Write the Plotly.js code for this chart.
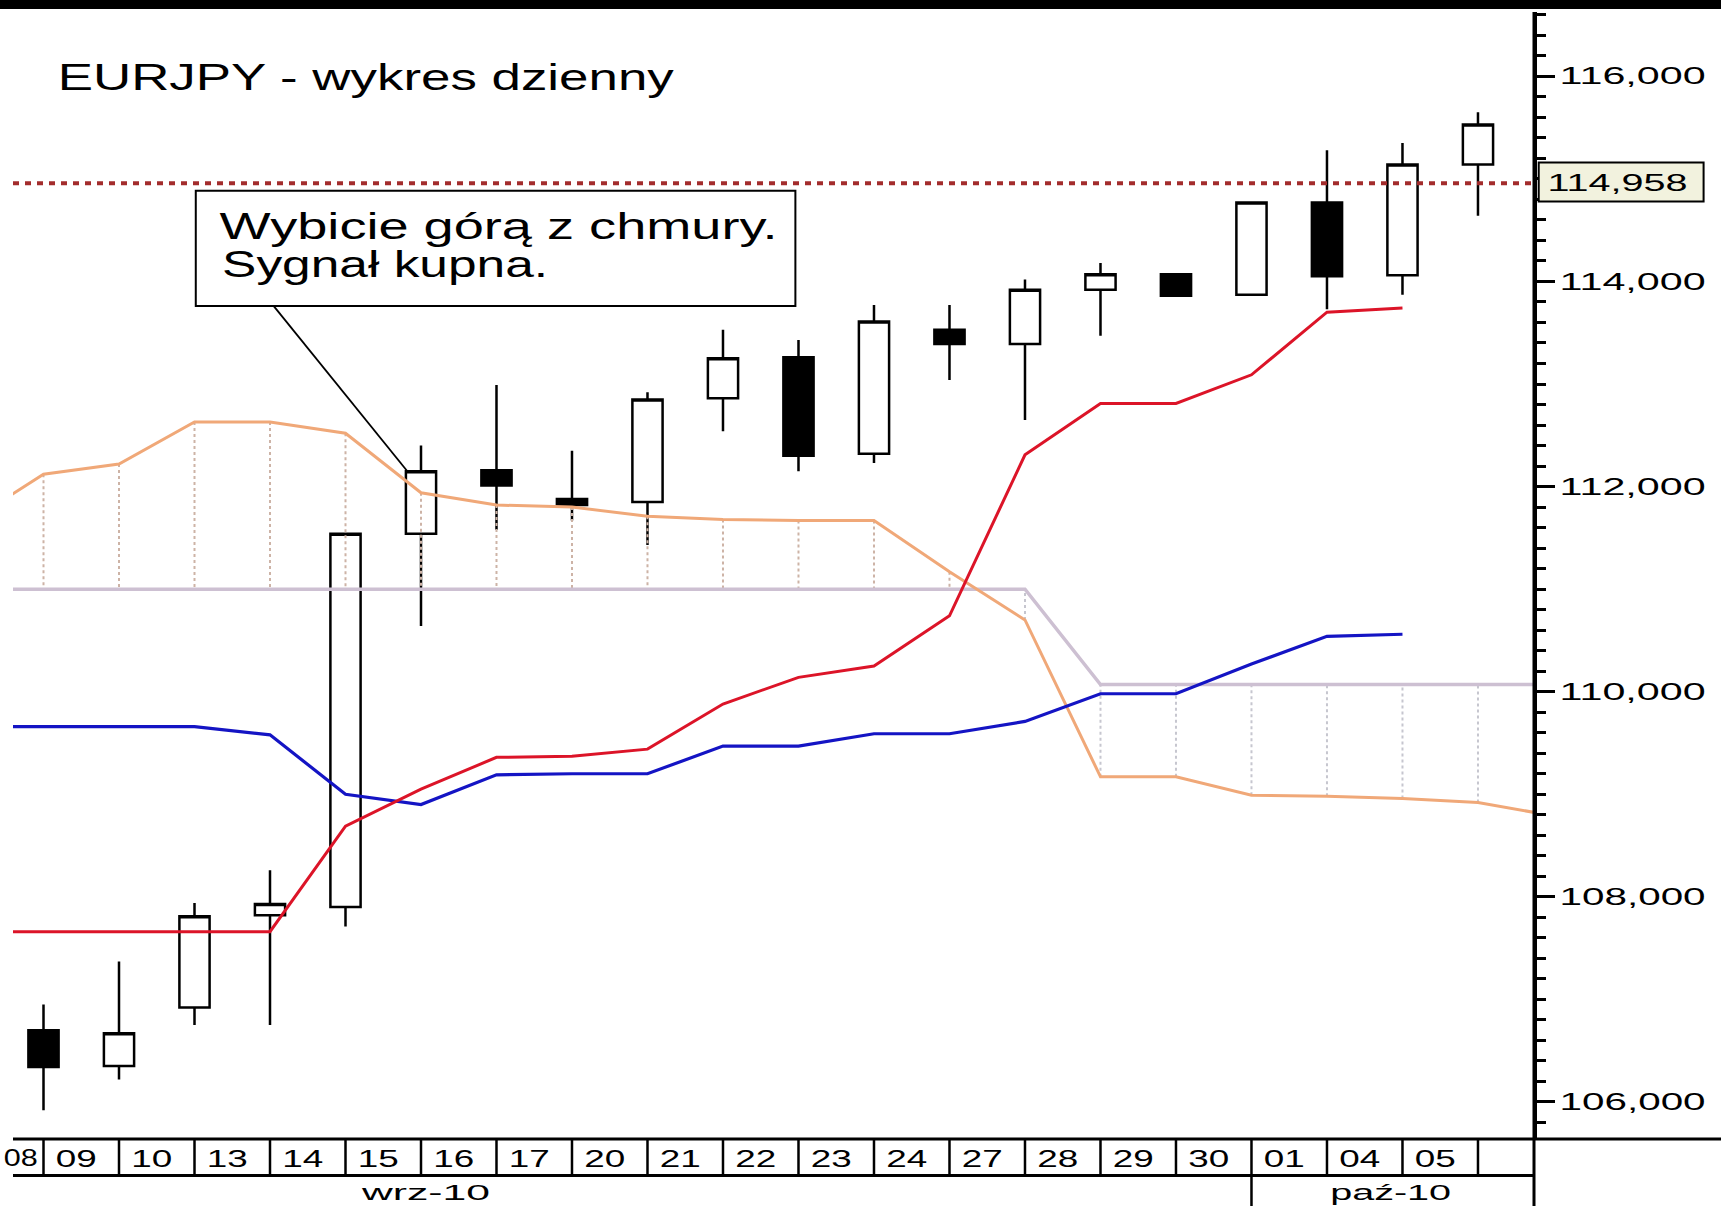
<!DOCTYPE html>
<html>
<head>
<meta charset="utf-8">
<script src="https://cdn.plot.ly/plotly-3.0.1.min.js"></script>
<style>
html,body{margin:0;padding:0;background:#fff;}
#chart{width:1721px;height:1206px;}
</style>
</head>
<body>
<div id="chart"></div>
<script>
// ---------- DATA ----------
// trading days shown (candle index 0..19); "08" is the cut-off day before the first candle
const dayLabels = ["09","10","13","14","15","16","17","20","21","22","23","24","27","28","29","30","01","04","05",""];
const prevDayLabel = "08";
const monthLabels = ["wrz-10", "paź-10"];

// EURJPY daily OHLC
const openP  = [106.70,106.35,106.92,107.82,107.90,111.54,112.16,111.88,111.85,112.86,113.26,112.32,113.53,113.39,113.92,114.07,113.87,114.77,114.06,115.14];
const highP  = [106.95,107.37,107.94,108.26,111.55,112.40,112.99,112.35,112.92,113.53,113.43,113.77,113.77,114.02,114.18,114.07,114.77,115.28,115.35,115.65];
const lowP   = [105.92,106.22,106.75,106.75,107.71,110.64,111.58,111.67,111.43,112.54,112.15,112.23,113.04,112.65,113.47,113.86,113.87,113.73,113.87,114.64];
const closeP = [106.34,106.67,107.81,107.93,111.54,112.15,112.01,111.82,112.85,113.25,112.30,113.61,113.39,113.92,114.07,113.86,114.77,114.05,115.14,115.53];

// Ichimoku lines, starting at index -1 (day 08)
const tenkan = [107.66,107.66,107.66,107.66,107.66,108.69,109.05,109.36,109.37,109.44,109.88,110.14,110.25,110.74,112.31,112.81,112.81,113.09,113.70,113.74];
const kijun  = [109.66,109.66,109.66,109.66,109.58,109.00,108.90,109.19,109.20,109.20,109.47,109.47,109.59,109.59,109.71,109.98,109.98,110.27,110.54,110.56];
// cloud spans, index -1 .. 20
const spanA  = [111.65,112.12,112.22,112.63,112.63,112.52,111.94,111.82,111.80,111.71,111.68,111.67,111.67,111.17,110.70,109.17,109.17,108.99,108.98,108.96,108.92,108.79];
const spanB  = [111.00,111.00,111.00,111.00,111.00,111.00,111.00,111.00,111.00,111.00,111.00,111.00,111.00,111.00,111.00,110.07,110.07,110.07,110.07,110.07,110.07,110.07];

const lastPrice = 114.958;
const lastPriceText = "114,958";
const titleText = "EURJPY - wykres dzienny";
const noteLines = ["Wybicie górą z chmury.", "Sygnał kupna."];

// ---------- BUILD ----------
const candleX = dayLabels.map((_, i) => i);
const lineX = tenkan.map((_, i) => i - 1);
const cloudX = spanA.map((_, i) => i - 1);

const hatchUp = {x: [], y: []}, hatchDn = {x: [], y: []};
cloudX.forEach((xi, k) => {
  const tgt = spanA[k] >= spanB[k] ? hatchUp : hatchDn;
  tgt.x.push(xi, xi, null);
  tgt.y.push(spanA[k], spanB[k], null);
});

const traces = [
  {
    type: 'candlestick', x: candleX, open: openP, high: highP, low: lowP, close: closeP,
    increasing: {line: {color: '#000', width: 2.5}, fillcolor: '#ffffff'},
    decreasing: {line: {color: '#000', width: 2.5}, fillcolor: '#000000'},
    whiskerwidth: 0, showlegend: false, hoverinfo: 'skip'
  },
  {type: 'scatter', mode: 'lines', x: hatchUp.x, y: hatchUp.y, line: {color: '#cdb3a6', width: 2, dash: '3px,3px'}, hoverinfo: 'skip', showlegend: false},
  {type: 'scatter', mode: 'lines', x: hatchDn.x, y: hatchDn.y, line: {color: '#c6c6cf', width: 2, dash: '3px,3px'}, hoverinfo: 'skip', showlegend: false},
  {type: 'scatter', mode: 'lines', x: cloudX, y: spanB, line: {color: '#cdc0d2', width: 3.5}, hoverinfo: 'skip', showlegend: false},
  {type: 'scatter', mode: 'lines', x: cloudX, y: spanA, line: {color: '#f0a878', width: 3}, hoverinfo: 'skip', showlegend: false},
  {type: 'scatter', mode: 'lines', x: lineX, y: kijun, line: {color: '#1414c4', width: 3.2}, hoverinfo: 'skip', showlegend: false},
  {type: 'scatter', mode: 'lines', x: lineX, y: tenkan, line: {color: '#dc1428', width: 3}, hoverinfo: 'skip', showlegend: false}
];

const xRange = [-0.404, 19.742];
const yRange = [105.639, 116.627];
const tickFont = {family: 'Liberation Sans, Arial, sans-serif', size: 23, color: '#000'};
const monthFont = {family: 'Liberation Sans, Arial, sans-serif', size: 22, color: '#000'};

const shapes = [
  // top black band
  {type: 'rect', xref: 'paper', yref: 'paper', x0: -0.02, x1: 1.15, y0: 1.0027, y1: 1.03, fillcolor: '#000', line: {width: 0}, layer: 'above'},
  // last price dotted line
  {type: 'line', xref: 'paper', yref: 'y', x0: 0, x1: 1, y0: lastPrice, y1: lastPrice, line: {color: '#a32c2c', width: 4, dash: '6px,6px'}, layer: 'above'},
  // last price label box
  {type: 'rect', xref: 'paper', yref: 'paper', x0: 1.0031, x1: 1.1115, y0: 0.8319, y1: 0.8665, fillcolor: '#f2f2de', line: {color: '#000', width: 2}, layer: 'above'},
  // note box and pointer
  {type: 'rect', xref: 'x', yref: 'y', x0: 2.017, x1: 9.959, y0: 113.76, y1: 114.885, fillcolor: '#ffffff', line: {color: '#000', width: 2}, layer: 'above'},
  {type: 'line', xref: 'x', yref: 'y', x0: 3.05, y0: 113.76, x1: 4.83, y1: 112.14, line: {color: '#000', width: 1.8}, layer: 'above'},
  // date row: top line (full width), bottom line
  {type: 'line', xref: 'paper', yref: 'paper', x0: 0, x1: 1.14, y0: 0, y1: 0, line: {color: '#000', width: 3}, layer: 'above'},
  {type: 'line', xref: 'paper', yref: 'paper', x0: 0, x1: 1, y0: -0.0324, y1: -0.0324, line: {color: '#000', width: 3}, layer: 'above'},
  // y axis line extension down to bottom
  {type: 'line', xref: 'paper', yref: 'paper', x0: 1, x1: 1, y0: 1, y1: -0.08, line: {color: '#000', width: 3}, layer: 'above'}
];
// cell separators at each candle
candleX.forEach(i => shapes.push({type: 'line', xref: 'x', yref: 'paper', x0: i, x1: i, y0: 0, y1: -0.0324, line: {color: '#000', width: 2.5}, layer: 'above'}));
// month separator at first October day
const octIdx = dayLabels.indexOf("01");
shapes.push({type: 'line', xref: 'x', yref: 'paper', x0: octIdx, x1: octIdx, y0: -0.0324, y1: -0.08, line: {color: '#000', width: 2.5}, layer: 'above'});

const big = {family: 'Liberation Sans, Arial, sans-serif', size: 36, color: '#000'};
const annotations = [
  {xref: 'paper', yref: 'paper', x: 0.2318, y: 0.9416, text: titleText, showarrow: false, font: big, xanchor: 'center', yanchor: 'middle'},
  {xref: 'paper', yref: 'paper', x: 0.3191, y: 0.8098, text: noteLines[0], showarrow: false, font: big, xanchor: 'center', yanchor: 'middle'},
  {xref: 'paper', yref: 'paper', x: 0.2446, y: 0.7758, text: noteLines[1], showarrow: false, font: big, xanchor: 'center', yanchor: 'middle'},
  {xref: 'paper', yref: 'paper', x: 1.0552, y: 0.8487, text: lastPriceText, showarrow: false, font: {family: tickFont.family, size: 24, color: '#000'}, xanchor: 'center', yanchor: 'middle'},
  {xref: 'paper', yref: 'paper', x: 0.2715, y: -0.0478, text: monthLabels[0], showarrow: false, font: monthFont, xanchor: 'center', yanchor: 'middle', borderpad: 0},
  {xref: 'paper', yref: 'paper', x: 0.9057, y: -0.0478, text: monthLabels[1], showarrow: false, font: monthFont, xanchor: 'center', yanchor: 'middle', borderpad: 0},
  // partial first cell label, kept whole inside the left edge
  {xref: 'paper', yref: 'paper', x: 0.0053, y: -0.0170, text: prevDayLabel, showarrow: false, font: tickFont, xanchor: 'center', yanchor: 'middle', borderpad: 0}
];

const layout = {
  width: 1721, height: 1206,
  margin: {l: 13, r: 187, t: 12, b: 67, pad: 0},
  paper_bgcolor: '#ffffff', plot_bgcolor: '#ffffff',
  separators: ',.',
  showlegend: false,
  hovermode: false,
  boxgap: 0.6,
  boxgroupgap: 0,
  xaxis: {
    type: 'linear', range: xRange, fixedrange: true,
    showgrid: false, zeroline: false, showline: false, ticks: '',
    tickmode: 'array', tickvals: candleX.map(i => i + 0.434), ticktext: dayLabels,
    tickfont: tickFont, ticklabelstandoff: 4,
    rangeslider: {visible: false}
  },
  yaxis: {
    side: 'right', range: yRange, fixedrange: true,
    showgrid: false, zeroline: false,
    showline: true, linecolor: '#000', linewidth: 3,
    ticks: 'outside', ticklen: 18, tickwidth: 3, tickcolor: '#000',
    tick0: 106, dtick: 2, tickformat: '.3f',
    minor: {dtick: 0.2, tick0: 106, ticks: 'outside', ticklen: 9, tickwidth: 3, tickcolor: '#000', showgrid: false},
    tickfont: tickFont, ticklabelstandoff: 0
  },
  shapes: shapes,
  annotations: annotations
};

function fit(el, target) {
  const w = el.getComputedTextLength();
  if (w > 0) {
    el.setAttribute('textLength', target);
    el.setAttribute('lengthAdjust', 'spacingAndGlyphs');
  }
}

Plotly.newPlot('chart', traces, layout, {displayModeBar: false, staticPlot: true}).then(() => {
  document.querySelectorAll('.ytick text').forEach(t => fit(t, 146));
  document.querySelectorAll('.xtick text').forEach(t => { if (t.textContent.trim()) fit(t, 41); });
  const widths = [616, 558, 326, 140, 128, 121, 34];
  document.querySelectorAll('g.annotation').forEach((g, i) => {
    const t = g.querySelector('text.annotation-text');
    if (t && widths[i]) fit(t, widths[i]);
  });
});
</script>
</body>
</html>
